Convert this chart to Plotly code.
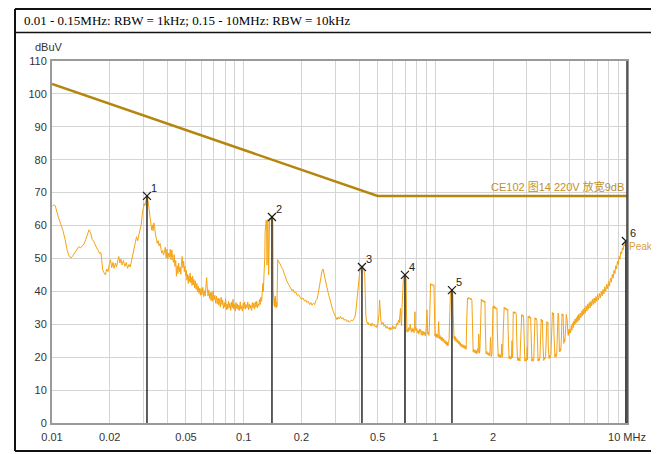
import math
import plotly.graph_objects as go

# ---------------- data ----------------
header_text = "0.01 - 0.15MHz: RBW = 1kHz; 0.15 - 10MHz: RBW = 10kHz"
limit_label = "CE102 图14 220V 放宽9dB"

limit_freq_mhz = [0.01, 0.5, 10.0]
limit_level_dbuv = [103.0, 69.0, 69.0]

low_freq_mhz = [
    0.0100, 0.0102, 0.0104, 0.0106, 0.0108, 0.0111, 0.0114, 0.0117, 0.0120, 0.0123,
    0.0126, 0.0129, 0.0132, 0.0135, 0.0138, 0.0141, 0.0144, 0.0147, 0.0150, 0.0153,
    0.0156, 0.0159, 0.0162, 0.0165, 0.0168, 0.0171, 0.0174, 0.0177, 0.0180, 0.0182,
    0.0184, 0.0187, 0.0190, 0.0193, 0.0196, 0.0199, 0.0202, 0.0205, 0.0208, 0.0211,
    0.0214, 0.0217, 0.0220, 0.0223, 0.0226, 0.0229, 0.0232, 0.0236, 0.0240, 0.0244,
    0.0248, 0.0252, 0.0256, 0.0260, 0.0264, 0.0268, 0.0272, 0.0276, 0.0280, 0.0284,
    0.0288, 0.0292, 0.0296, 0.0299, 0.0302, 0.0305, 0.0308, 0.0311, 0.0313, 0.0316,
    0.0319, 0.0322, 0.0325, 0.0328, 0.0331, 0.0334, 0.0337, 0.0340, 0.0343, 0.0346,
    0.0350, 0.0354, 0.0358, 0.0362, 0.0366, 0.0370, 0.0374, 0.0378, 0.0382, 0.0386,
    0.0390, 0.0394, 0.0398, 0.0402, 0.0406, 0.0410, 0.0414, 0.0418, 0.0422, 0.0426,
    0.0430, 0.0434, 0.0438, 0.0442, 0.0446, 0.0450, 0.0454, 0.0458, 0.0462, 0.0466,
    0.0470, 0.0474, 0.0478, 0.0482, 0.0486, 0.0490, 0.0494, 0.0498, 0.0502, 0.0506,
    0.0510, 0.0514, 0.0518, 0.0522, 0.0526, 0.0530, 0.0534, 0.0538, 0.0542, 0.0546,
    0.0550, 0.0555, 0.0560, 0.0565, 0.0570, 0.0575, 0.0580, 0.0585, 0.0590, 0.0595,
    0.0600, 0.0606, 0.0612, 0.0618, 0.0624, 0.0630, 0.0636, 0.0641, 0.0646, 0.0652,
    0.0658, 0.0664, 0.0670, 0.0676, 0.0682, 0.0688, 0.0694, 0.0700, 0.0707, 0.0714,
    0.0721, 0.0728, 0.0735, 0.0742, 0.0749, 0.0756, 0.0763, 0.0770, 0.0777, 0.0784,
    0.0791, 0.0798, 0.0805, 0.0812, 0.0819, 0.0826, 0.0833, 0.0840, 0.0848, 0.0856,
    0.0864, 0.0872, 0.0880, 0.0888, 0.0896, 0.0904, 0.0912, 0.0920, 0.0928, 0.0936,
    0.0944, 0.0952, 0.0960, 0.0968, 0.0976, 0.0985, 0.0994, 0.1003, 0.1012, 0.1021,
    0.1030, 0.1040, 0.1050, 0.1060, 0.1070, 0.1080, 0.1090, 0.1100, 0.1110, 0.1120,
    0.1130, 0.1140, 0.1150, 0.1160, 0.1170, 0.1180, 0.1190, 0.1200, 0.1210, 0.1220,
    0.1230, 0.1240, 0.1250, 0.1258, 0.1266, 0.1274, 0.1282, 0.1288, 0.1294, 0.1300,
    0.1310, 0.1318, 0.1324, 0.1330, 0.1340, 0.1350, 0.1356, 0.1366, 0.1376, 0.1386,
    0.1396, 0.1405, 0.1414, 0.1420, 0.1426, 0.1432, 0.1438, 0.1444, 0.1450, 0.1456,
    0.1462, 0.1468, 0.1474, 0.1480, 0.1486, 0.1492,
]
low_level_dbuv = [
    65.8, 66.3, 66.0, 64.0, 62.5, 60.5, 58.5, 55.8, 52.5, 50.6,
    50.2, 51.0, 52.0, 52.8, 53.6, 53.2, 53.9, 54.4, 55.8, 57.6,
    58.7, 57.8, 55.8, 55.2, 54.0, 53.2, 52.5, 51.5, 51.8, 49.0,
    46.5, 45.6, 45.0, 46.8, 46.0, 48.2, 49.6, 47.2, 48.8, 47.0,
    48.6, 47.4, 49.2, 50.6, 48.6, 49.8, 48.0, 49.4, 47.6, 48.8,
    47.0, 48.2, 47.4, 49.6, 51.0, 52.6, 54.8, 56.6, 55.4, 57.2,
    58.8, 60.2, 63.5, 65.6, 66.8, 66.0, 67.6, 68.4, 69.0, 68.2,
    66.4, 64.2, 61.8, 59.6, 58.6, 60.2, 58.4, 60.8, 59.8, 57.6,
    56.2, 54.6, 55.4, 53.8, 54.6, 52.8, 51.6, 52.4, 51.0, 52.0,
    53.4, 50.2, 52.8, 49.8, 51.6, 50.4, 52.8, 49.6, 52.6, 50.2,
    48.8, 51.2, 47.6, 49.4, 44.6, 47.8, 45.4, 48.6, 46.0, 47.4,
    45.2, 49.0, 50.6, 47.2, 49.2, 46.0, 47.6, 44.8, 46.4, 43.4,
    45.2, 42.4, 44.8, 43.0, 45.6, 42.6, 44.2, 41.8, 44.6, 42.0,
    43.6, 41.0, 43.2, 40.6, 42.4, 39.8, 41.6, 39.4, 41.0, 38.8,
    40.8, 39.0, 41.2, 38.4, 40.2, 38.6, 41.8, 44.2, 41.0, 38.6,
    40.4, 37.8, 39.6, 37.2, 39.8, 37.0, 40.2, 37.4, 38.8, 36.4,
    38.6, 36.2, 38.0, 35.8, 37.8, 35.2, 38.2, 36.0, 37.4, 34.8,
    36.6, 35.2, 37.8, 34.4, 36.2, 34.6, 37.0, 35.0, 36.4, 34.2,
    36.8, 35.0, 37.6, 34.6, 36.0, 34.0, 36.6, 34.8, 36.2, 34.4,
    35.8, 34.2, 36.8, 34.6, 35.6, 34.0, 36.4, 34.8, 36.8, 34.6,
    36.0, 35.0, 36.8, 34.4, 36.2, 34.8, 35.8, 34.2, 36.6, 35.0,
    36.4, 34.6, 36.8, 35.2, 37.0, 35.0, 36.2, 35.6, 37.6, 36.0,
    38.2, 37.0, 39.4, 42.4, 40.0, 43.6, 45.4, 50.0, 58.0, 61.2,
    61.6, 60.6, 48.0, 60.8, 61.8, 45.0, 61.0, 62.2, 61.6, 62.4,
    62.0, 62.6, 61.8, 60.8, 40.0, 37.0, 39.4, 35.6, 38.0, 35.2,
    38.6, 35.8, 37.4, 35.0, 36.8, 35.4,
]

high_freq_mhz = [
    0.1505, 0.1520, 0.1540, 0.1560, 0.1580, 0.1603, 0.1625, 0.1650, 0.1675, 0.1703,
    0.1730, 0.1760, 0.1790, 0.1808, 0.1840, 0.1870, 0.1900, 0.1935, 0.1967, 0.2000,
    0.2040, 0.2080, 0.2110, 0.2139, 0.2170, 0.2210, 0.2240, 0.2272, 0.2310, 0.2350,
    0.2380, 0.2413, 0.2440, 0.2470, 0.2500, 0.2530, 0.2560, 0.2593, 0.2620, 0.2650,
    0.2690, 0.2721, 0.2760, 0.2800, 0.2850, 0.2889, 0.2930, 0.2970, 0.3010, 0.3068,
    0.3110, 0.3150, 0.3200, 0.3250, 0.3296, 0.3350, 0.3400, 0.3450, 0.3500, 0.3550,
    0.3585, 0.3640, 0.3700, 0.3750, 0.3807, 0.3850, 0.3890, 0.3930, 0.3970, 0.4010,
    0.4050, 0.4100, 0.4141, 0.4190, 0.4240, 0.4280, 0.4310, 0.4340, 0.4380, 0.4420,
    0.4452, 0.4500, 0.4560, 0.4620, 0.4680, 0.4740, 0.4800, 0.4860, 0.4920, 0.4960,
    0.5020, 0.5080, 0.5120, 0.5160, 0.5200, 0.5260, 0.5331, 0.5400, 0.5470, 0.5540,
    0.5610, 0.5680, 0.5750, 0.5798, 0.5860, 0.5930, 0.6000, 0.6070, 0.6140, 0.6200,
    0.6250, 0.6305, 0.6360, 0.6420, 0.6480, 0.6538, 0.6580, 0.6620, 0.6660, 0.6700,
    0.6740, 0.6776, 0.6820, 0.6870, 0.6942, 0.6990, 0.7040, 0.7070, 0.7110, 0.7160,
    0.7220, 0.7280, 0.7340, 0.7400, 0.7450, 0.7500, 0.7560, 0.7620, 0.7680, 0.7740,
    0.7790, 0.7828, 0.7860, 0.7920, 0.7990, 0.8060, 0.8130, 0.8200, 0.8270, 0.8312,
    0.8380, 0.8450, 0.8520, 0.8590, 0.8660, 0.8730, 0.8800, 0.8870, 0.8950, 0.9000,
    0.9042, 0.9080, 0.9130, 0.9190, 0.9250, 0.9310, 0.9350, 0.9372, 0.9450, 0.9530,
    0.9610, 0.9690, 0.9760, 0.9833, 0.9870, 0.9910, 0.9960, 1.0020, 1.0080, 1.0140,
    1.0195, 1.0260, 1.0330, 1.0400, 1.0440, 1.0500, 1.0570, 1.0640, 1.0720, 1.0800,
    1.0880, 1.0960, 1.1050, 1.1140, 1.1220, 1.1300, 1.1380, 1.1460, 1.1540, 1.1630,
    1.1720, 1.1800, 1.1880, 1.1940, 1.2000, 1.2080, 1.2150, 1.2210, 1.2280, 1.2340,
    1.2400, 1.2460, 1.2520, 1.2600, 1.2660, 1.2750, 1.2840, 1.2930, 1.3020, 1.3120,
    1.3220, 1.3320, 1.3420, 1.3520, 1.3620, 1.3720, 1.3820, 1.3930, 1.4040, 1.4150,
    1.4260, 1.4370, 1.4480, 1.4560, 1.4620, 1.4720, 1.4830, 1.4940, 1.5050, 1.5160,
    1.5280, 1.5400, 1.5520, 1.5580, 1.5640, 1.5750, 1.5870, 1.5990, 1.6110, 1.6230,
    1.6350, 1.6470, 1.6600, 1.6720, 1.6850, 1.6920, 1.7000, 1.7090, 1.7180, 1.7250,
    1.7380, 1.7510, 1.7640, 1.7770, 1.7900, 1.8020, 1.8150, 1.8210, 1.8270, 1.8400,
    1.8540, 1.8680, 1.8820, 1.8960, 1.9100, 1.9250, 1.9400, 1.9480, 1.9600, 1.9750,
    1.9880, 1.9980, 2.0130, 2.0280, 2.0430, 2.0580, 2.0730, 2.0880, 2.0980, 2.1050,
    2.1120, 2.1270, 2.1430, 2.1590, 2.1750, 2.1910, 2.2070, 2.2230, 2.2300, 2.2450,
    2.2620, 2.2700, 2.2860, 2.3030, 2.3200, 2.3370, 2.3540, 2.3710, 2.3880, 2.3980,
    2.4060, 2.4230, 2.4410, 2.4590, 2.4770, 2.4950, 2.5130, 2.5220, 2.5310, 2.5420,
    2.5500, 2.5680, 2.5870, 2.6060, 2.6250, 2.6440, 2.6560, 2.6640, 2.6830, 2.7030,
    2.7230, 2.7430, 2.7630, 2.7830, 2.7930, 2.8030, 2.8240, 2.8450, 2.8660, 2.8870,
    2.9000, 2.9090, 2.9300, 2.9520, 2.9740, 2.9960, 3.0180, 3.0280, 3.0400, 3.0500,
    3.0730, 3.0960, 3.1190, 3.1420, 3.1560, 3.1660, 3.1900, 3.2140, 3.2380, 3.2620,
    3.2750, 3.2860, 3.3110, 3.3360, 3.3610, 3.3860, 3.3980, 3.4100, 3.4360, 3.4620,
    3.4880, 3.5140, 3.5270, 3.5400, 3.5670, 3.5940, 3.6210, 3.6380, 3.6480, 3.6760,
    3.7040, 3.7320, 3.7600, 3.7740, 3.7880, 3.8170, 3.8460, 3.8680, 3.8800, 3.8900,
    3.9200, 3.9500, 3.9800, 4.0100, 4.0300, 4.0500, 4.0800, 4.1100, 4.1400, 4.1600,
    4.1800, 4.2100, 4.2400, 4.2700, 4.3000, 4.3200, 4.3400, 4.3700, 4.4000, 4.4200,
    4.4400, 4.4700, 4.5000, 4.5300, 4.5600, 4.5800, 4.6100, 4.6400, 4.6600, 4.6800,
    4.7100, 4.7400, 4.7700, 4.8000, 4.8200, 4.8500, 4.8800, 4.9100, 4.9400, 4.9700,
    5.0000, 5.0400, 5.0800, 5.1200, 5.1600, 5.2000, 5.2400, 5.2800, 5.3200, 5.3600,
    5.4000, 5.4400, 5.4800, 5.5200, 5.5600, 5.6000, 5.6500, 5.7000, 5.7500, 5.8000,
    5.8500, 5.9000, 5.9500, 6.0000, 6.0600, 6.1200, 6.1800, 6.2400, 6.3000, 6.3600,
    6.4200, 6.4800, 6.5400, 6.6000, 6.6700, 6.7400, 6.8100, 6.8800, 6.9500, 7.0200,
    7.1000, 7.1800, 7.2600, 7.3400, 7.4200, 7.5000, 7.5800, 7.6600, 7.7500, 7.8400,
    7.9300, 8.0200, 8.1100, 8.2000, 8.2900, 8.3800, 8.4700, 8.5600, 8.6500, 8.7400,
    8.8300, 8.9200, 9.0100, 9.1000, 9.1900, 9.2800, 9.3700, 9.4600, 9.5500, 9.6400,
    9.7300, 9.8000, 9.8700,
]
high_level_dbuv = [
    49.6, 49.2, 48.6, 48.0, 47.2, 46.6, 45.4, 44.6, 43.2, 42.4,
    41.6, 41.2, 40.2, 40.6, 39.6, 39.8, 38.8, 39.0, 38.2, 37.6,
    38.0, 37.0, 37.4, 36.6, 37.0, 36.0, 36.6, 35.8, 36.4, 36.0,
    37.2, 37.6, 38.8, 40.6, 42.6, 44.6, 46.0, 46.8, 45.4, 43.6,
    42.0, 41.2, 39.6, 38.0, 36.4, 35.2, 34.0, 33.0, 32.4, 31.4,
    32.2, 31.6, 32.4, 31.6, 32.0, 31.2, 31.6, 30.8, 31.2, 30.6,
    30.8, 31.2, 31.0, 31.8, 32.2, 34.0, 37.0, 40.0, 43.4, 46.2,
    47.0, 47.2, 47.4, 47.2, 46.6, 45.0, 38.0, 32.6, 31.0, 30.2,
    30.6, 29.8, 30.2, 29.4, 30.4, 29.6, 30.0, 29.2, 29.6, 29.0,
    30.2, 33.0, 37.4, 34.0, 31.0, 30.0, 30.6, 29.4, 29.8, 28.8,
    29.4, 28.6, 29.0, 28.2, 29.0, 28.4, 29.6, 28.6, 29.2, 28.6,
    30.0, 30.4, 29.8, 31.2, 30.4, 33.4, 34.8, 31.0, 29.6, 35.0,
    40.0, 44.0, 44.4, 44.2, 45.0, 44.6, 43.8, 34.0, 27.6, 28.6,
    27.8, 29.0, 28.2, 30.0, 28.4, 27.6, 28.8, 27.8, 28.6, 27.4,
    29.2, 33.8, 29.4, 28.0, 28.8, 27.4, 28.2, 27.0, 28.6, 27.6,
    28.4, 26.8, 28.0, 26.6, 27.8, 26.8, 27.6, 26.4, 28.0, 30.0,
    34.4, 30.0, 27.0, 27.6, 26.6, 29.0, 36.0, 42.0, 42.4, 41.8,
    42.2, 42.0, 41.6, 42.0, 35.0, 28.0, 26.4, 27.4, 26.2, 27.0,
    26.0, 27.0, 25.8, 30.8, 26.4, 25.6, 26.6, 25.4, 26.2, 25.0,
    26.0, 24.8, 25.6, 24.4, 25.2, 24.0, 24.8, 23.6, 24.6, 23.4,
    24.2, 25.6, 32.0, 39.4, 40.0, 39.8, 40.2, 40.4, 40.0, 39.6,
    33.0, 27.0, 25.6, 26.4, 25.0, 26.2, 24.8, 25.6, 24.4, 25.2,
    24.0, 24.8, 23.6, 24.4, 23.2, 24.0, 23.0, 23.8, 22.8, 23.6,
    22.6, 23.4, 22.4, 30.0, 37.6, 38.0, 37.6, 38.2, 37.8, 38.0,
    37.4, 37.8, 37.2, 30.0, 22.4, 21.6, 22.4, 21.4, 22.2, 21.2,
    22.0, 21.0, 22.6, 21.4, 27.0, 22.0, 21.2, 22.6, 30.0, 37.2,
    37.6, 37.0, 37.4, 36.8, 37.2, 36.6, 37.0, 30.0, 21.6, 21.0,
    21.8, 20.8, 21.4, 20.6, 21.2, 20.4, 26.0, 21.0, 20.2, 21.0,
    28.0, 35.4, 35.0, 35.6, 34.8, 35.2, 34.6, 35.0, 34.6, 28.0,
    20.8, 20.2, 21.0, 20.0, 20.8, 19.8, 20.6, 24.0, 20.0, 20.8,
    28.0, 34.8, 35.2, 34.6, 35.0, 34.4, 34.8, 34.2, 34.6, 28.0,
    20.2, 19.6, 20.4, 19.4, 20.2, 19.6, 25.0, 19.8, 20.0, 28.0,
    33.8, 33.4, 33.8, 33.2, 33.6, 33.0, 27.0, 19.6, 19.0, 19.8,
    19.0, 19.6, 18.8, 24.0, 27.0, 32.8, 33.0, 32.4, 32.8, 32.2,
    27.0, 19.4, 18.8, 19.6, 18.8, 19.4, 23.0, 19.2, 26.0, 32.4,
    32.0, 32.6, 31.8, 32.2, 27.0, 19.2, 18.8, 19.6, 18.8, 19.4,
    25.0, 31.6, 32.0, 31.4, 31.8, 31.2, 26.0, 19.4, 18.8, 19.6,
    19.0, 19.8, 24.0, 31.2, 31.6, 30.8, 31.2, 25.0, 19.6, 19.0,
    20.0, 19.4, 20.2, 25.0, 30.4, 30.8, 30.2, 30.6, 24.0, 20.0,
    19.6, 20.6, 19.8, 20.8, 27.0, 33.2, 33.6, 33.0, 33.4, 27.0,
    20.4, 20.0, 21.0, 20.2, 21.2, 28.0, 33.0, 33.4, 32.8, 27.0,
    21.6, 22.6, 21.8, 23.4, 28.0, 33.2, 32.6, 33.0, 28.0, 24.2,
    25.6, 24.8, 26.4, 30.0, 33.0, 32.4, 31.0, 27.6, 26.6, 28.4,
    27.2, 28.6, 27.4, 29.6, 28.2, 30.4, 29.0, 31.0, 29.8, 31.6,
    30.2, 32.0, 30.6, 32.6, 31.0, 33.0, 31.4, 33.4, 32.0, 34.0,
    32.6, 34.6, 33.0, 35.0, 33.4, 35.6, 34.0, 36.2, 34.6, 36.6,
    35.0, 37.0, 35.6, 37.6, 36.0, 38.0, 36.4, 38.4, 37.0, 39.0,
    37.4, 39.4, 38.0, 40.0, 38.6, 40.6, 39.2, 41.4, 40.0, 42.2,
    40.8, 43.0, 41.6, 44.0, 42.8, 45.2, 44.0, 46.4, 45.4, 47.8,
    46.8, 49.2, 48.2, 50.6, 49.8, 52.0, 51.4, 53.2, 52.6, 54.2,
    53.8, 55.0, 55.3,
]

marker_ids = ["1", "2", "3", "4", "5", "6"]
marker_freq_mhz = [0.0313, 0.1405, 0.4141, 0.6942, 1.221, 9.87]
marker_level_dbuv = [69.0, 62.6, 47.4, 45.0, 40.4, 55.3]

x_tick_vals = [0.01, 0.02, 0.03, 0.04, 0.05, 0.06, 0.07, 0.08, 0.09,
               0.1, 0.2, 0.3, 0.4, 0.5, 0.6, 0.7, 0.8, 0.9,
               1, 2, 3, 4, 5, 6, 7, 8, 9, 10]
x_tick_text = ["0.01", "0.02", "", "", "0.05", "", "", "", "",
               "0.1", "0.2", "", "", "0.5", "", "", "", "",
               "1", "2", "", "", "", "", "", "", "", "10 MHz"]
y_tick_vals = [0, 10, 20, 30, 40, 50, 60, 70, 80, 90, 100, 110]

# ---------------- style ----------------
TRACE_COLOR = "#F5A313"
LIMIT_COLOR = "#B5860F"
GRID_COLOR = "#D4D4D4"
AXIS_COLOR = "#9A9A9A"
SANS = "Liberation Sans, Arial, Noto Sans CJK SC, sans-serif"

OFF = 8  # page body margin: figure starts 8px from the window edge
W, H = 659 - OFF, 454 - OFF
# plot area in window pixels
L_WIN, R_WIN, T_WIN, B_WIN = 52, 627, 61, 423
L, R, T, B = L_WIN - OFF, R_WIN - OFF, T_WIN - OFF, B_WIN - OFF


def px(xw):
    return (xw - L_WIN) / (R_WIN - L_WIN)


def py(yw):
    return (B_WIN - yw) / (B_WIN - T_WIN)


fig = go.Figure()

fig.add_trace(go.Scatter(x=limit_freq_mhz, y=limit_level_dbuv, mode="lines",
                         line=dict(color=LIMIT_COLOR, width=2.5),
                         hoverinfo="skip", showlegend=False))

fig.add_trace(go.Scatter(x=low_freq_mhz + high_freq_mhz,
                         y=low_level_dbuv + high_level_dbuv, mode="lines",
                         line=dict(color=TRACE_COLOR, width=1),
                         showlegend=False))

# marker stems
stem_x, stem_y = [], []
for f, v in zip(marker_freq_mhz, marker_level_dbuv):
    stem_x += [f, f, None]
    stem_y += [0, v, None]
fig.add_trace(go.Scatter(x=stem_x, y=stem_y, mode="lines",
                         line=dict(color="#1a1a1a", width=1.4),
                         hoverinfo="skip", showlegend=False))
fig.add_trace(go.Scatter(x=marker_freq_mhz, y=marker_level_dbuv, mode="markers",
                         marker=dict(symbol="x-thin", size=8,
                                     line=dict(color="#1a1a1a", width=1.2)),
                         showlegend=False))

annotations = []
for mid, f, v in zip(marker_ids, marker_freq_mhz, marker_level_dbuv):
    annotations.append(dict(x=math.log10(f), y=v, xref="x", yref="y", text=mid,
                            showarrow=False, xanchor="left", yanchor="bottom",
                            xshift=2, yshift=0,
                            font=dict(family=SANS, size=11, color="#222")))
annotations.append(dict(x=math.log10(marker_freq_mhz[-1]), y=marker_level_dbuv[-1],
                        xref="x", yref="y", text="Peak", showarrow=False,
                        xanchor="left", yanchor="top", xshift=1, yshift=2,
                        font=dict(family=SANS, size=10, color="#D9A040")))
annotations.append(dict(x=px(626), y=limit_level_dbuv[-1], xref="paper", yref="y",
                        text=limit_label, showarrow=False, xanchor="right",
                        yanchor="bottom", yshift=1,
                        font=dict(family=SANS, size=11, color="#C0902A")))
annotations.append(dict(x=px(33), y=py(47), xref="paper", yref="paper", text="dBuV",
                        showarrow=False, xanchor="left", yanchor="middle",
                        font=dict(family=SANS, size=11, color="#333")))
annotations.append(dict(x=px(22), y=py(20.5), xref="paper", yref="paper",
                        text=header_text, showarrow=False, xanchor="left",
                        yanchor="middle",
                        font=dict(family="Liberation Serif, Times New Roman, serif",
                                  size=13, color="#000")))

FRAME = dict(color="#111", width=2)
shapes = [
    # black frame: top, left, bottom (right side lies beyond the window)
    dict(type="line", xref="paper", yref="paper", x0=px(15), y0=py(9), x1=px(720),
         y1=py(9), line=FRAME),
    dict(type="line", xref="paper", yref="paper", x0=px(15), y0=py(9), x1=px(15),
         y1=py(451), line=FRAME),
    dict(type="line", xref="paper", yref="paper", x0=px(15), y0=py(451), x1=px(720),
         y1=py(451), line=FRAME),
    # header separator
    dict(type="line", xref="paper", yref="paper", x0=px(15), y0=py(32.5), x1=px(720),
         y1=py(32.5), line=dict(color="#111", width=1.5)),
    # dark right border of plot
    dict(type="line", xref="paper", yref="paper", x0=1, y0=0, x1=1, y1=1,
         line=dict(color="#444", width=1.6)),
]

fig.update_layout(
    width=W, height=H,
    margin=dict(l=L, r=W - R, t=T, b=H - B, pad=0),
    paper_bgcolor="white", plot_bgcolor="white",
    showlegend=False,
    annotations=annotations, shapes=shapes,
    xaxis=dict(type="log", range=[-2, 1], tickmode="array",
               tickvals=x_tick_vals, ticktext=x_tick_text,
               showgrid=True, gridcolor=GRID_COLOR, gridwidth=1,
               showline=True, linecolor=AXIS_COLOR, linewidth=2, mirror=True,
               ticks="", ticklabelstandoff=3,
               tickfont=dict(family=SANS, size=11, color="#333"),
               zeroline=False, fixedrange=True),
    yaxis=dict(range=[0, 110], tickmode="array", tickvals=y_tick_vals,
               showgrid=True, gridcolor=GRID_COLOR, gridwidth=1,
               showline=True, linecolor=AXIS_COLOR, linewidth=2, mirror=True,
               ticks="", ticklabelstandoff=1,
               tickfont=dict(family=SANS, size=11, color="#333"),
               zeroline=False, fixedrange=True),
)

fig.write_html("out.html")
